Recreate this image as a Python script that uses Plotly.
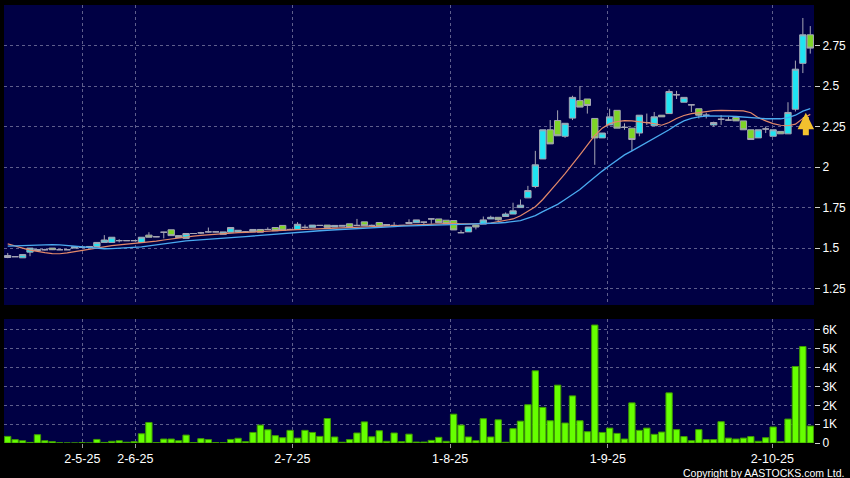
import plotly.graph_objects as go

# ---------------- data ----------------
opens = [1.442, 1.447, 1.440, 1.475, 1.485, 1.490, 1.500, 1.490, 1.490, 1.500,
         1.505, 1.505, 1.510, 1.535, 1.535, 1.546, 1.546, 1.546, 1.535, 1.580,
         1.570, 1.598, 1.613, 1.577, 1.560, 1.590, 1.594, 1.600, 1.600, 1.585,
         1.598, 1.600, 1.600, 1.600, 1.615, 1.615, 1.627, 1.640, 1.615, 1.615,
         1.628, 1.628, 1.640, 1.642, 1.630, 1.635, 1.650, 1.640, 1.662, 1.640,
         1.658, 1.640, 1.640, 1.640, 1.652, 1.657, 1.660, 1.680, 1.680, 1.672,
         1.670, 1.595, 1.600, 1.642, 1.648, 1.680, 1.690, 1.695, 1.710, 1.750,
         1.810, 1.880, 2.050, 2.230, 2.287, 2.190, 2.302, 2.410, 2.420, 2.300,
         2.180, 2.260, 2.350, 2.245, 2.240, 2.210, 2.275, 2.255, 2.320, 2.330,
         2.446, 2.400, 2.384, 2.360, 2.320, 2.260, 2.295, 2.290, 2.306, 2.285,
         2.230, 2.180, 2.235, 2.190, 2.220, 2.205, 2.357, 2.640, 2.816]
highs = [1.470, 1.450, 1.460, 1.500, 1.492, 1.496, 1.500, 1.492, 1.490, 1.510,
         1.505, 1.512, 1.535, 1.580, 1.567, 1.555, 1.548, 1.550, 1.567, 1.598,
         1.572, 1.600, 1.613, 1.577, 1.590, 1.592, 1.600, 1.627, 1.602, 1.600,
         1.627, 1.610, 1.605, 1.615, 1.615, 1.628, 1.627, 1.640, 1.620, 1.660,
         1.645, 1.642, 1.642, 1.642, 1.640, 1.640, 1.650, 1.680, 1.662, 1.645,
         1.658, 1.645, 1.660, 1.642, 1.678, 1.674, 1.662, 1.682, 1.680, 1.672,
         1.670, 1.610, 1.630, 1.642, 1.695, 1.700, 1.690, 1.720, 1.780, 1.800,
         1.884, 2.100, 2.230, 2.290, 2.350, 2.270, 2.440, 2.500, 2.420, 2.300,
         2.210, 2.360, 2.350, 2.270, 2.240, 2.320, 2.330, 2.340, 2.320, 2.480,
         2.470, 2.430, 2.384, 2.360, 2.335, 2.280, 2.320, 2.310, 2.306, 2.285,
         2.230, 2.230, 2.250, 2.230, 2.220, 2.400, 2.657, 2.920, 2.870]
lows = [1.438, 1.445, 1.440, 1.450, 1.480, 1.485, 1.488, 1.488, 1.490, 1.500,
        1.505, 1.505, 1.510, 1.535, 1.535, 1.535, 1.544, 1.544, 1.535, 1.567,
        1.568, 1.560, 1.577, 1.565, 1.560, 1.588, 1.588, 1.595, 1.598, 1.585,
        1.598, 1.598, 1.598, 1.600, 1.598, 1.612, 1.607, 1.610, 1.612, 1.615,
        1.620, 1.628, 1.638, 1.628, 1.630, 1.635, 1.628, 1.638, 1.638, 1.638,
        1.635, 1.640, 1.638, 1.638, 1.652, 1.657, 1.645, 1.650, 1.657, 1.650,
        1.612, 1.595, 1.600, 1.615, 1.648, 1.680, 1.665, 1.695, 1.710, 1.750,
        1.810, 1.870, 2.050, 2.143, 2.193, 2.180, 2.290, 2.370, 2.330, 2.014,
        2.180, 2.260, 2.240, 2.230, 2.100, 2.190, 2.260, 2.255, 2.310, 2.330,
        2.420, 2.400, 2.340, 2.300, 2.300, 2.250, 2.260, 2.285, 2.285, 2.230,
        2.170, 2.180, 2.210, 2.190, 2.205, 2.205, 2.343, 2.580, 2.700]
closes = [1.454, 1.447, 1.460, 1.500, 1.490, 1.490, 1.490, 1.490, 1.490, 1.508,
          1.505, 1.510, 1.535, 1.550, 1.567, 1.546, 1.546, 1.546, 1.567, 1.567,
          1.570, 1.598, 1.577, 1.565, 1.590, 1.590, 1.594, 1.600, 1.600, 1.600,
          1.627, 1.610, 1.600, 1.615, 1.598, 1.615, 1.607, 1.610, 1.615, 1.647,
          1.628, 1.642, 1.640, 1.628, 1.640, 1.640, 1.628, 1.640, 1.638, 1.640,
          1.635, 1.645, 1.640, 1.640, 1.658, 1.674, 1.660, 1.680, 1.657, 1.650,
          1.612, 1.595, 1.630, 1.630, 1.674, 1.690, 1.675, 1.710, 1.730, 1.765,
          1.855, 2.014, 2.230, 2.143, 2.193, 2.270, 2.430, 2.370, 2.380, 2.180,
          2.210, 2.310, 2.240, 2.245, 2.170, 2.320, 2.275, 2.310, 2.310, 2.466,
          2.446, 2.430, 2.384, 2.320, 2.320, 2.275, 2.295, 2.290, 2.285, 2.230,
          2.170, 2.230, 2.235, 2.230, 2.205, 2.337, 2.604, 2.816, 2.734]
ma_short = [1.526, 1.515, 1.500, 1.488, 1.478, 1.472, 1.466, 1.465, 1.470, 1.478,
            1.487, 1.494, 1.503, 1.509, 1.515, 1.520, 1.524, 1.528, 1.533, 1.538,
            1.543, 1.550, 1.557, 1.563, 1.569, 1.574, 1.579, 1.583, 1.587, 1.590,
            1.592, 1.595, 1.597, 1.600, 1.602, 1.604, 1.607, 1.609, 1.612, 1.614,
            1.616, 1.618, 1.620, 1.622, 1.624, 1.626, 1.628, 1.631, 1.633, 1.635,
            1.637, 1.639, 1.641, 1.643, 1.645, 1.647, 1.649, 1.651, 1.653, 1.654,
            1.653, 1.650, 1.649, 1.650, 1.652, 1.655, 1.663, 1.670, 1.680, 1.700,
            1.725, 1.755, 1.800, 1.850, 1.905, 1.960, 2.015, 2.075, 2.135, 2.195,
            2.240, 2.268, 2.280, 2.287, 2.285, 2.280, 2.276, 2.268, 2.258, 2.275,
            2.300, 2.318, 2.330, 2.337, 2.343, 2.348, 2.350, 2.350, 2.350, 2.347,
            2.335, 2.305, 2.285, 2.268, 2.258, 2.255, 2.265, 2.300, 2.325]
ma_long = [1.512, 1.514, 1.516, 1.518, 1.520, 1.522, 1.522, 1.520, 1.516, 1.510,
           1.505, 1.500, 1.497, 1.496, 1.497, 1.499, 1.501, 1.504, 1.508, 1.514,
           1.521, 1.528, 1.534, 1.539, 1.544, 1.548, 1.552, 1.556, 1.559, 1.562,
           1.565, 1.568, 1.571, 1.575, 1.579, 1.583, 1.587, 1.591, 1.595, 1.598,
           1.601, 1.604, 1.607, 1.610, 1.613, 1.616, 1.619, 1.622, 1.625, 1.627,
           1.629, 1.631, 1.633, 1.635, 1.637, 1.639, 1.641, 1.643, 1.645, 1.646,
           1.647, 1.647, 1.648, 1.649, 1.651, 1.653, 1.655, 1.658, 1.662, 1.670,
           1.685, 1.700, 1.725, 1.745, 1.770, 1.800, 1.830, 1.862, 1.900, 1.940,
           1.975, 2.010, 2.045, 2.075, 2.100, 2.125, 2.150, 2.175, 2.200, 2.230,
           2.260, 2.285, 2.300, 2.310, 2.315, 2.316, 2.316, 2.314, 2.312, 2.310,
           2.305, 2.302, 2.298, 2.296, 2.298, 2.305, 2.320, 2.345, 2.360]
volumes_k = [0.35, 0.18, 0.12, 0.03, 0.44, 0.12, 0.07, 0.01, 0.0, 0.0,
             0.02, 0.0, 0.19, 0.03, 0.09, 0.12, 0.04, 0.07, 0.49, 1.09,
             0.02, 0.21, 0.21, 0.12, 0.42, 0.02, 0.23, 0.18, 0.02, 0.01,
             0.19, 0.25, 0.07, 0.56, 0.95, 0.70, 0.39, 0.28, 0.67, 0.26,
             0.67, 0.56, 0.35, 1.30, 0.32, 0.04, 0.18, 0.53, 1.12, 0.33,
             0.65, 0.09, 0.53, 0.07, 0.47, 0.05, 0.05, 0.14, 0.30, 0.09,
             1.53, 0.95, 0.32, 0.12, 1.29, 0.32, 1.23, 0.04, 0.76, 1.16,
             2.03, 3.83, 1.89, 1.18, 3.07, 1.06, 2.50, 1.18, 0.60, 6.26,
             0.56, 0.79, 0.51, 0.21, 2.13, 0.67, 0.79, 0.46, 0.58, 2.66,
             0.71, 0.34, 0.12, 0.71, 0.18, 0.18, 1.13, 0.26, 0.21, 0.26,
             0.34, 0.09, 0.28, 0.85, 0.07, 1.27, 4.06, 5.12, 0.90]
date_labels = ["2-5-25", "2-6-25", "2-7-25", "1-8-25", "1-9-25", "2-10-25"]
date_pos = [10.04, 17.17, 38.3, 59.53, 80.75, 102.9]
price_ticks = [1.25, 1.5, 1.75, 2.0, 2.25, 2.5, 2.75]
price_tick_text = ["1.25", "1.5", "1.75", "2", "2.25", "2.5", "2.75"]
vol_ticks = [0, 1, 2, 3, 4, 5, 6]
vol_tick_text = ["0", "1K", "2K", "3K", "4K", "5K", "6K"]

idx = list(range(len(closes)))

# ---------------- style ----------------
BG = "#000044"
GRID = "#5e5e8c"
CYAN = "#20e4f2"
GREEN = "#7ed526"
EDGE = "#a6a6b4"
LIME = "#66ff00"
LIME_EDGE = "#3f9c00"
ORANGE = "#e3896a"
BLUE = "#4aaaf0"
FONT = "Liberation Sans"

fig = go.Figure()
fig.add_trace(go.Candlestick(
    x=idx, open=opens, high=highs, low=lows, close=closes,
    xaxis="x", yaxis="y", whiskerwidth=0,
    increasing=dict(fillcolor=CYAN, line=dict(color=EDGE, width=1)),
    decreasing=dict(fillcolor=GREEN, line=dict(color=EDGE, width=1)),
    showlegend=False, hoverinfo="skip"))
fig.add_trace(go.Scatter(x=idx, y=ma_short, mode="lines", xaxis="x", yaxis="y",
                         line=dict(color=ORANGE, width=1.2), showlegend=False, hoverinfo="skip"))
fig.add_trace(go.Scatter(x=idx, y=ma_long, mode="lines", xaxis="x", yaxis="y",
                         line=dict(color=BLUE, width=1.3), showlegend=False, hoverinfo="skip"))
fig.add_trace(go.Bar(x=idx, y=volumes_k, xaxis="x2", yaxis="y2",
                     marker=dict(color=LIME, line=dict(color=LIME_EDGE, width=1)),
                     showlegend=False, hoverinfo="skip"))

grid_common = dict(showgrid=True, gridcolor=GRID, griddash="3px,3px", gridwidth=1,
                   zeroline=False, showline=False)

fig.update_layout(
    width=850, height=478,
    margin=dict(l=4, r=36, t=5, b=35, autoexpand=False),
    paper_bgcolor="#000000", plot_bgcolor=BG,
    bargap=0.15, boxgap=0.15, boxgroupgap=0,
    xaxis=dict(domain=[0, 1], anchor="y", range=[-0.5, 108.5],
               tickvals=date_pos, ticktext=date_labels, showticklabels=False, ticks="",
               rangeslider=dict(visible=False), **grid_common),
    xaxis2=dict(domain=[0, 1], anchor="y2", matches="x", range=[-0.5, 108.5],
                tickvals=date_pos, ticktext=date_labels, ticks="outside", ticklen=4,
                tickcolor="#9a9a9a", tickfont=dict(color="#ffffff", size=12.5, family=FONT),
                **grid_common),
    yaxis=dict(domain=[0.3151, 1], anchor="x", side="right", range=[1.149, 3.0],
               tickvals=price_ticks, ticktext=price_tick_text, ticks="outside", ticklen=5,
               tickcolor="#cfcfcf", tickfont=dict(color="#ffffff", size=12, family=FONT),
               **grid_common),
    yaxis2=dict(domain=[0, 0.2831], anchor="x2", side="right", range=[0, 6.58],
                tickvals=vol_ticks, ticktext=vol_tick_text, ticks="outside", ticklen=5,
                tickcolor="#cfcfcf", tickfont=dict(color="#ffffff", size=12, family=FONT),
                **grid_common),
    annotations=[
        dict(x=107.4, y=2.335, xref="x", yref="y", text="", showarrow=True,
             ax=0, ay=24, arrowhead=2, arrowsize=0.55, arrowwidth=6,
             arrowcolor="#f2c12e", standoff=0),
        dict(x=1.0395, y=-0.0685, xref="paper", yref="paper", xanchor="right",
             yanchor="middle", showarrow=False, text="Copyright by AASTOCKS.com Ltd.",
             font=dict(color="#ffffff", size=10.5, family=FONT)),
    ],
)

fig.write_html("out.html",
               config={"displayModeBar": False},
               post_script="document.body.style.margin='0px';"
                           "document.documentElement.style.margin='0px';")
